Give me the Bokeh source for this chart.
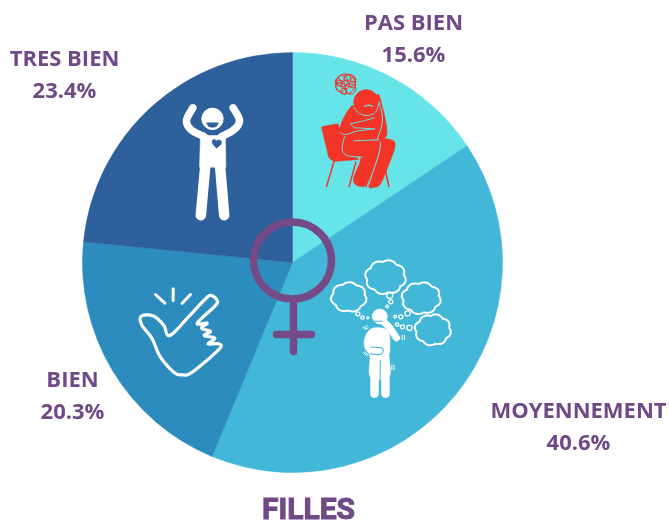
import math
import numpy as np
from bokeh.plotting import figure
from bokeh.models import Range1d
from bokeh.core.properties import value
from bokeh.embed import file_html
from bokeh.resources import INLINE

# ---- chart data ----
categories = ["PAS BIEN", "MOYENNEMENT", "BIEN", "TRES BIEN"]
values = [15.6, 40.6, 20.3, 23.4]
slice_colors = ["#67E4E8", "#42B7D8", "#2D8CBE", "#2E609B"]
title_text = "FILLES"

PURPLE = "#6F4A86"
RED = "#F33527"
PALE, MID, BLUE, DARK = slice_colors

W, H = 669, 527
p = figure(width=W, height=H, x_range=Range1d(0, 669), y_range=Range1d(0, 527),
           x_axis_type=None, y_axis_type=None, toolbar_location=None,
           output_backend="svg", min_border=0, outline_line_color=None,
           background_fill_color="white", border_fill_color="white",
           styles={"position": "fixed", "left": "0px", "top": "0px"})
p.grid.visible = False


def Y(py):
    return 527 - np.asarray(py, dtype=float)


def smooth(pts, closed=True, n=8):
    """Catmull-Rom through the points, for rounded icon outlines."""
    pts = np.asarray(pts, dtype=float)
    m = len(pts)
    out = []
    rng = range(m) if closed else range(m - 1)
    for i in rng:
        if closed:
            a, b, c, d = pts[(i - 1) % m], pts[i], pts[(i + 1) % m], pts[(i + 2) % m]
        else:
            a, b, c, d = pts[max(i - 1, 0)], pts[i], pts[i + 1], pts[min(i + 2, m - 1)]
        for t in np.linspace(0, 1, n, endpoint=False):
            out.append(0.5 * (2 * b + (c - a) * t + (2 * a - 5 * b + 4 * c - d) * t * t
                              + (3 * b - a - 3 * c + d) * t ** 3))
    if not closed:
        out.append(pts[-1])
    return np.array(out)


def mapper(ox, oy, k=3.0):
    def f(pts):
        a = np.asarray(pts, dtype=float)
        return ox + a[:, 0] / k, oy + a[:, 1] / k
    return f


def fill(f, pts, color, soft=True):
    a = smooth(pts) if soft else np.asarray(pts, dtype=float)
    x, y = f(a)
    p.patch(x, Y(y), fill_color=color, line_color=color, line_width=0.5)


def stroke(f, pts, color, w, soft=True, closed=False):
    a = smooth(pts, closed=closed) if soft else np.asarray(pts, dtype=float)
    x, y = f(a)
    if closed:
        x = np.append(x, x[0])
        y = np.append(y, y[0])
    p.line(x, Y(y), line_color=color, line_width=w, line_cap="round", line_join="round")


def ring(f, cx, cy, r, color, w=1.0, filled=False):
    x, y = f([[cx, cy]])
    p.ellipse(x, Y(y), width=2 * r / 3, height=2 * r / 3,
              fill_color=color if filled else None,
              line_color=color, line_width=w)


# ---- pie ----
CX, CY, R = 292, 262, 210
total = sum(values)
acc = 0.0
for val, col in zip(values, slice_colors):
    start = math.pi / 2 - 2 * math.pi * acc / total
    acc += val
    end = math.pi / 2 - 2 * math.pi * acc / total
    p.wedge(x=[CX], y=Y([CY]), radius=R, start_angle=start, end_angle=end,
            direction="clock", fill_color=col, line_color=col, line_width=0.5)

# ---- stressed person, red ----
f = mapper(300, 60)
for a, b in [((100, 305), (78, 378)), ((166, 305), (146, 378)),
             ((197, 345), (197, 378)), ((255, 330), (265, 378))]:
    stroke(f, [a, b], RED, 1.5, soft=False)
fill(f, [(63, 200), (70, 197), (112, 190), (135, 250), (175, 297), (100, 303), (85, 292)], RED, soft=False)
fill(f, [(240, 240), (270, 237), (284, 255), (262, 320), (240, 370), (222, 380), (205, 372),
         (237, 280)], RED)
fill(f, [(152, 138), (128, 175), (116, 215), (130, 238), (124, 265), (135, 287), (180, 292),
         (160, 350), (165, 372), (190, 378), (205, 360), (235, 280), (240, 245), (258, 225),
         (257, 190), (247, 145), (232, 100), (215, 150), (190, 160), (165, 140)], RED)
ring(f, 197, 125, 37, RED, filled=True)
stroke(f, [(192, 137), (205, 134), (217, 138)], PALE, 1.2)
for seg in [[(160, 140), (175, 158), (200, 165), (225, 155), (236, 125)],
            [(150, 190), (185, 182), (222, 172)], [(150, 190), (162, 202)],
            [(162, 202), (222, 205)], [(222, 205), (170, 212), (135, 222), (118, 215)],
            [(132, 228), (125, 265), (140, 285), (185, 290)], [(160, 241), (235, 238)],
            [(240, 245), (235, 280), (205, 372)], [(236, 125), (246, 180), (230, 238)]]:
    stroke(f, seg, PALE, 1.0)
for cx, cy, r in [(135, 70, 30), (125, 62, 17), (148, 60, 18), (120, 80, 14), (150, 85, 16),
                  (135, 72, 13), (118, 68, 9), (155, 72, 10), (130, 92, 9), (140, 52, 10),
                  (112, 62, 8), (158, 58, 7)]:
    ring(f, cx, cy, r, "#E8392E", w=1.0)

# ---- thinking person, white ----
f = mapper(320, 250)
for cx, cy, rx, ry, bumps in [(85, 140, 48, 40, 7), (195, 80, 55, 46, 8),
                              (302, 143, 53, 43, 8), (337, 238, 49, 42, 8)]:
    t = np.linspace(0, 2 * np.pi, 180, endpoint=False)
    s = 1 + 0.12 * np.abs(np.sin(t * bumps / 2 + 0.6))
    stroke(f, np.column_stack([cx + rx * s * np.cos(t), cy + ry * s * np.sin(t)]),
           "white", 2.0, soft=False, closed=True)
for cx, cy, r in [(208, 135, 9), (211, 154, 6), (200, 168, 4), (112, 190, 6), (126, 201, 5),
                  (142, 202, 3), (261, 189, 8), (241, 199, 6), (224, 198, 4), (267, 232, 8),
                  (246, 229, 6), (230, 222, 5)]:
    ring(f, cx, cy, r, "white", w=1.3)
ring(f, 178, 198, 22, "white", filled=True)
fill(f, [(133, 262), (150, 236), (180, 232), (205, 246), (208, 300), (205, 318), (206, 380),
         (150, 380), (148, 318), (133, 292)], "white")
stroke(f, [(163, 320), (162, 430)], "white", 8.5, soft=False)
stroke(f, [(194, 320), (195, 430)], "white", 8.5, soft=False)
stroke(f, [(188, 212), (208, 232), (228, 262)], "white", 7, soft=False)
stroke(f, [(160, 212), (185, 212)], MID, 1.0, soft=False)
stroke(f, [(152, 290), (182, 292), (188, 302), (178, 312), (150, 310)], MID, 1.1)
stroke(f, [(179, 330), (179, 445)], MID, 1.0, soft=False)
for seg in [[(128, 232), (140, 226)], [(132, 236), (143, 232)], [(128, 306), (140, 316)],
            [(133, 304), (142, 312)], [(214, 344), (214, 358)], [(220, 344), (221, 358)],
            [(245, 254), (245, 268)], [(252, 254), (252, 268)]]:
    stroke(f, seg, "white", 1.0, soft=False)

# ---- happy person, white ----
f = mapper(120, 90)
ring(f, 276, 85, 32, "white", filled=True)
stroke(f, [(217, 52), (198, 90), (212, 118), (250, 138)], "white", 7.5)
stroke(f, [(338, 52), (357, 90), (340, 118), (303, 138)], "white", 7.5)
fill(f, [(240, 135), (315, 135), (316, 230), (237, 230)], "white", soft=False)
stroke(f, [(254, 230), (241, 374)], "white", 10.5, soft=False)
stroke(f, [(299, 230), (311, 374)], "white", 10.5, soft=False)
x, y = f([(258, 97), (294, 97), (288, 108), (276, 111), (264, 108)])
p.patch(x, Y(y), fill_color=DARK, line_color=DARK, line_width=0.5)
x, y = f([(288, 173), (276, 160), (275, 150), (282, 146), (288, 151), (295, 148), (303, 152), (302, 161)])
p.patch(x, Y(y), fill_color=DARK, line_color=DARK, line_width=0.5)

# ---- pointing hand, white outline ----
f = mapper(125, 275)
stroke(f, [(133, 180), (190, 123), (240, 70), (258, 60), (275, 75), (268, 92), (215, 143),
           (245, 143), (228, 158), (255, 168), (236, 180), (268, 188), (248, 205), (280, 205),
           (280, 222), (200, 290), (170, 298), (145, 290), (105, 245), (80, 190), (50, 150),
           (45, 125), (65, 118), (90, 125), (115, 150)], "white", 3.2, closed=True)
for a, b in [((90, 57), (118, 83)), ((143, 40), (143, 75)), ((195, 57), (170, 83))]:
    stroke(f, [a, b], "white", 3.0, soft=False)

# ---- female symbol ----
p.ellipse([292], Y([260]), width=78, height=77, fill_color=None,
          line_color="#744B87", line_width=7.5)
p.line([293, 293], Y([300, 351]), line_color="#744B87", line_width=7.5, line_cap="round")
p.line([276, 311], Y([334, 334]), line_color="#744B87", line_width=7.5, line_cap="round")

# ---- labels ----
positions = {"PAS BIEN": (413, 20), "MOYENNEMENT": (578, 408), "BIEN": (72, 377), "TRES BIEN": (64, 56)}
for name, val in zip(categories, values):
    lx, ly = positions[name]
    p.text([lx, lx], Y([ly, ly + 32]), text=[name, f"{val}%"], text_align="center",
           text_baseline="middle", text_color=PURPLE, text_font=value("Open Sans"),
           text_font_style="bold", text_font_size="22px")

p.text([308], Y([508]), text=[title_text], text_align="center", text_baseline="middle",
       text_color="#6F4A86", text_font=value("Roboto"), text_outline_color="#6F4A86",
       text_font_style="bold", text_font_size="30px")

open("out.html", "w").write(file_html(p, INLINE))
